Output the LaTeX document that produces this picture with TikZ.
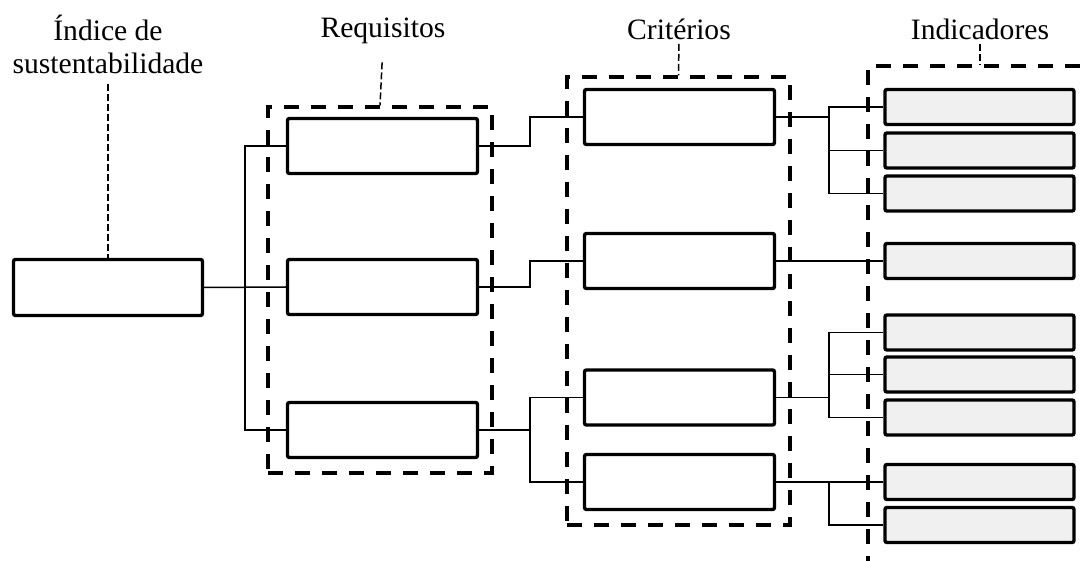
\documentclass[tikz,border=0pt]{standalone}
\usepackage{fontspec}
\setmainfont{Liberation Serif}
\usepackage{tikz}
\usetikzlibrary{fit,positioning}

\begin{document}
\begin{tikzpicture}
    [
      x=0.5pt, y=-0.5pt,
      block/.style={draw, line width=1.7pt, rounded corners=1pt, minimum width=95pt, minimum height=27.5pt, inner sep=0pt},
      indicator/.style={block, fill=gray!12, minimum width=94.5pt, minimum height=17.5pt},
      group/.style={draw, line width=1.6pt, dash pattern=on 7.5pt off 6pt, inner sep=0pt},
      link/.style={line width=0.75pt},
      leader/.style={line width=0.75pt, dash pattern=on 3.5pt off 1.5pt},
      heading/.style={font=\fontsize{14.8}{16.5}\selectfont, align=center, inner sep=0pt},
    ]

    \useasboundingbox (0,0) rectangle (1083,561);
    \clip (0,0) rectangle (1083,561);

    % index
    \node (idx) [block, minimum width=94.5pt, minimum height=28pt] at (108,287.5) {};

    % requirements
    \node (req-1) [block] at (382.5,146) {};
    \node (req-2) [block] at (382.5,287) {};
    \node (req-3) [block] at (382.5,430) {};

    % criteria
    \node (crit-1) [block] at (679.5,117) {};
    \node (crit-2) [block] at (679.5,261) {};
    \node (crit-3) [block] at (679.5,397.5) {};
    \node (crit-4) [block] at (679.5,482) {};

    % indicators
    \node (ind-1) [indicator] at (979.5,107) {};
    \node (ind-2) [indicator] at (979.5,150.5) {};
    \node (ind-3) [indicator] at (979.5,193.5) {};
    \node (ind-4) [indicator] at (979.5,261) {};
    \node (ind-5) [indicator] at (979.5,332.5) {};
    \node (ind-6) [indicator] at (979.5,374.5) {};
    \node (ind-7) [indicator] at (979.5,417.5) {};
    \node (ind-8) [indicator] at (979.5,482) {};
    \node (ind-9) [indicator] at (979.5,525) {};

    % links
    \draw [link] (idx.east) -- (req-2.west);
    \draw [link] (idx.east) -- ++(41,0) coordinate (fork-idx)
      (fork-idx) |- (req-1.west)
      (fork-idx) |- (req-3.west);

    \draw [link] (req-1.east) -- ++(51,0) |- (crit-1.west);
    \draw [link] (req-2.east) -- ++(51,0) |- (crit-2.west);
    \draw [link] (req-3.east) -- ++(51,0) coordinate (fork-req)
      (fork-req) |- (crit-3.west)
      (fork-req) |- (crit-4.west);

    \draw [link] (crit-1.east) -- ++(53,0) coordinate (fork-a)
      (fork-a) |- (ind-1.west)
      (fork-a) |- (ind-2.west)
      (fork-a) |- (ind-3.west);
    \draw [link] (crit-2.east) -- (ind-4.west);
    \draw [link] (crit-3.east) -- ++(53,0) coordinate (fork-b)
      (fork-b) |- (ind-5.west)
      (fork-b) |- (ind-6.west)
      (fork-b) |- (ind-7.west);
    \draw [link] (crit-4.east) -- (ind-8.west);
    \draw [link] (crit-4.east) -- ++(53,0) |- (ind-9.west);

    % dashed groups
    \node (req-group) [group, fit={(268,107) (492,473)}] {};
    \node (crit-group) [group, fit={(567,77) (790,525)}] {};
    \node (ind-group) [group, fit={(868,66) (1092,640)}] {};

    % headings
    \node (idx-head) [heading] at (108,44) {Índice de\\sustentabilidade};
    \node (req-head) [heading] at (383,31) {Requisitos};
    \node (crit-head) [heading] at (679,29) {Critérios};
    \node (ind-head) [heading] at (980,29) {Indicadores};

    \draw [leader, shorten <=5pt] (idx-head.south) -- (idx.north);
    \draw [leader, shorten <=9pt] (req-head.south) -- (req-group.north);
    \draw [leader, shorten <=2pt] (crit-head.south) -- (crit-group.north);
    \draw [leader, shorten <=2pt] (ind-head.south) -- (ind-head.south |- ind-group.north);

\end{tikzpicture}
\end{document}
